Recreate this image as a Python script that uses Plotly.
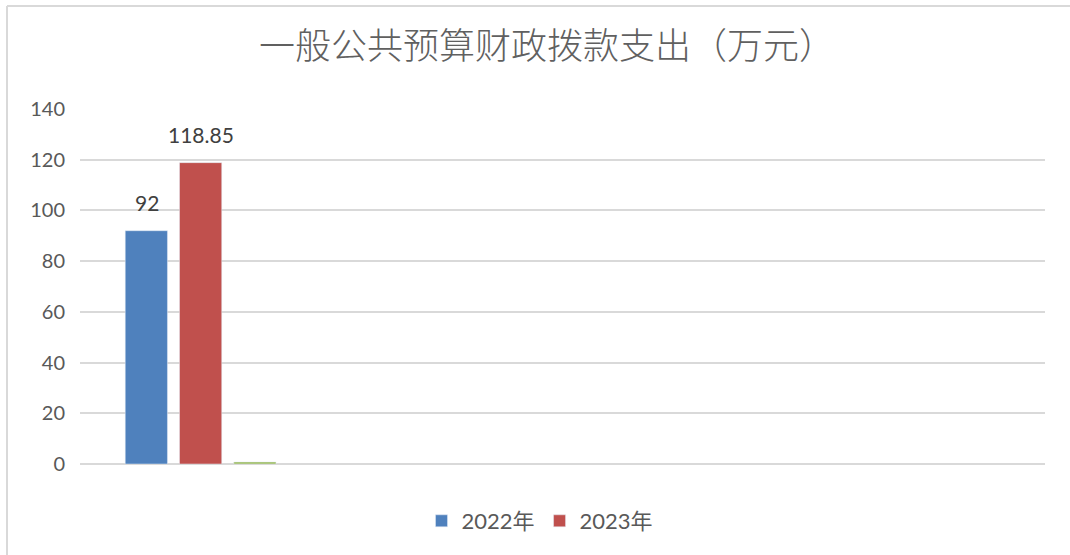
import plotly.graph_objects as go

categories = ["c1", "c2", "c3", "c4"]
series_names = ["2022年", "2023年", "系列3"]
values_2022 = [92, None, None, None]
values_2023 = [118.85, None, None, None]
values_s3 = [0.8, None, None, None]
labels_2022 = ["92", "", "", ""]
labels_2023 = ["118.85", "", "", ""]
y_ticks = [0, 20, 40, 60, 80, 100, 120, 140]

W, H = 1070, 555
PL, PR, PT, PB = 80, 1045, 109, 464   # plot area in page pixels
L, T, R, B = PL, PT, W - PR, H - PB
pw, ph = PR - PL, PB - PT

def px_x(p):
    return (p - PL) / pw

def px_y(p):
    return (PB - p) / ph

num_font = "Lato, 'Open Sans', 'Noto Sans CJK SC', sans-serif"
label_font = dict(size=21, color="#404040", family=num_font)
fig = go.Figure()
fig.add_bar(x=categories, y=values_2022, name=series_names[0], marker_color="#4F81BD")
fig.add_bar(x=categories, y=values_2023, name=series_names[1], marker_color="#C0504D")
fig.add_bar(x=categories, y=values_s3, name=series_names[2], marker_color="#9BBB59",
            showlegend=False)

# data labels placed above their bars (bar slots are 54px wide within the group)
slot = 54
for vals, labs, shift in [(values_2022, labels_2022, -slot), (values_2023, labels_2023, 0)]:
    for c, v, t in zip(categories, vals, labs):
        if v is not None and t:
            fig.add_annotation(x=c, y=v, text=t, showarrow=False, xshift=shift,
                               yanchor="bottom", yshift=14, font=label_font)

fig.update_layout(
    width=W, height=H,
    margin=dict(l=L, r=R, t=T, b=B),
    paper_bgcolor="white", plot_bgcolor="white",
    barmode="group", bargap=0.325, bargroupgap=0.222,
    title=dict(text="一般公共预算财政拨款支出（万元）",
               x=547 / W, xref="container", xanchor="center",
               y=1 - 46 / H, yref="container", yanchor="middle",
               font=dict(size=36, color="#606060", family="'Noto Sans CJK SC', sans-serif", weight=300)),
    showlegend=True,
    legend=dict(orientation="h", x=px_x(540), xanchor="center", y=px_y(521), yanchor="middle",
                font=dict(size=22, color="#595959", family=num_font),
                traceorder="normal"),
    font=dict(family=num_font),
)
fig.update_xaxes(type="category", categoryorder="array", categoryarray=categories,
                 showticklabels=False, showgrid=False, zeroline=False,
                 showline=False, ticks="")
fig.update_yaxes(range=[0, 140], tickvals=y_ticks, showgrid=True, gridcolor="#D9D9D9",
                 gridwidth=1.5, zeroline=True, zerolinecolor="#D9D9D9", zerolinewidth=1.5,
                 tickfont=dict(size=20, color="#595959", family=num_font),
                 ticks="", ticklabelstandoff=14, showline=False)

# outer chart frame (left and top edges)
fig.add_shape(type="line", xref="paper", yref="paper", x0=px_x(7), x1=px_x(7),
              y0=px_y(6), y1=px_y(570), line=dict(color="#D9D9D9", width=2), layer="below")
fig.add_shape(type="line", xref="paper", yref="paper", x0=px_x(7), x1=px_x(1080),
              y0=px_y(6), y1=px_y(6), line=dict(color="#D9D9D9", width=2), layer="below")

fig.write_html("out.html", config={"displayModeBar": False},
               post_script="document.body.style.margin='0';")
